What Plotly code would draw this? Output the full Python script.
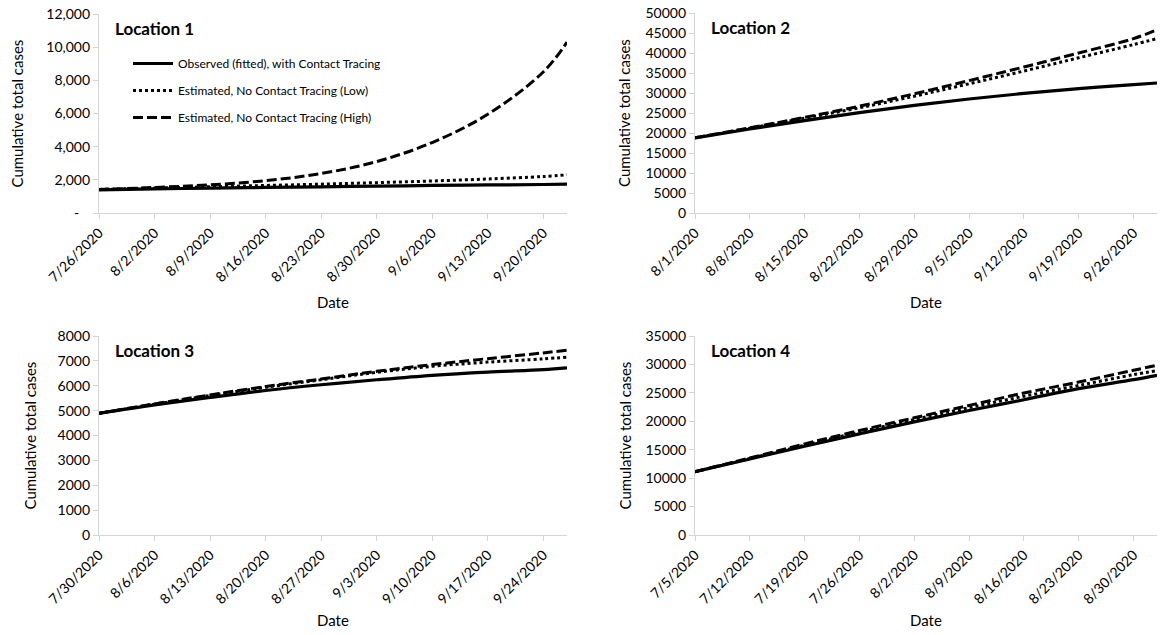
import plotly.graph_objects as go
from datetime import date, timedelta

# ---------------- data ----------------
loc1_dates = ["2020-07-26", "2020-08-02", "2020-08-09", "2020-08-16", "2020-08-23",
              "2020-08-30", "2020-09-06", "2020-09-13", "2020-09-20", "2020-09-23"]
loc1_observed = [1400, 1450, 1500, 1540, 1580, 1620, 1660, 1690, 1720, 1740]
loc1_low = [1420, 1500, 1580, 1660, 1740, 1830, 1930, 2050, 2200, 2300]
loc1_high = [1420, 1540, 1700, 1950, 2380, 3100, 4250, 5950, 8500, 10300]

loc2_dates = ["2020-08-01", "2020-08-08", "2020-08-15", "2020-08-22", "2020-08-29",
              "2020-09-05", "2020-09-12", "2020-09-19", "2020-09-26", "2020-09-29"]
loc2_observed = [18800, 21000, 23100, 25100, 26900, 28500, 29900, 31100, 32100, 32500]
loc2_low = [18800, 21200, 23700, 26300, 29200, 32300, 35500, 38800, 42100, 43600]
loc2_high = [18800, 21300, 23900, 26700, 29800, 33100, 36500, 40000, 43600, 45800]

loc3_dates = ["2020-07-30", "2020-08-06", "2020-08-13", "2020-08-20", "2020-08-27",
              "2020-09-03", "2020-09-10", "2020-09-17", "2020-09-24", "2020-09-27"]
loc3_observed = [4890, 5230, 5530, 5810, 6040, 6240, 6420, 6550, 6650, 6720]
loc3_low = [4890, 5260, 5610, 5940, 6240, 6540, 6780, 6950, 7080, 7150]
loc3_high = [4890, 5270, 5630, 5970, 6270, 6580, 6850, 7090, 7320, 7430]

loc4_dates = ["2020-07-05", "2020-07-12", "2020-07-19", "2020-07-26", "2020-08-02",
              "2020-08-09", "2020-08-16", "2020-08-23", "2020-08-30", "2020-09-02"]
loc4_observed = [11130, 13370, 15600, 17790, 19900, 21900, 23790, 25740, 27330, 28090]
loc4_low = [11130, 13450, 15800, 18100, 20300, 22400, 24400, 26300, 28200, 28900]
loc4_high = [11130, 13550, 16020, 18370, 20610, 22790, 24970, 26910, 28970, 29860]

titles = ["Location 1", "Location 2", "Location 3", "Location 4"]
series_names = ["Observed (fitted), with Contact Tracing",
                "Estimated, No Contact Tracing (Low)",
                "Estimated, No Contact Tracing (High)"]

y_ranges = [12000, 50000, 8000, 35000]
y_dticks = [2000, 5000, 1000, 5000]

# ---------------- layout geometry ----------------
W, H = 1162, 635
FONT = "Lato"
AX = "#d4d4d4"
TXT = "#000000"

# plot boxes in pixels: (left, right, top, bottom)
boxes = [(99, 567, 14, 213), (695, 1157, 13, 213),
         (99, 567, 336, 535), (695, 1157, 336, 535)]

panels = [
    (loc1_dates, loc1_observed, loc1_low, loc1_high),
    (loc2_dates, loc2_observed, loc2_low, loc2_high),
    (loc3_dates, loc3_observed, loc3_low, loc3_high),
    (loc4_dates, loc4_observed, loc4_low, loc4_high),
]

styles = [dict(color="black", width=3.2, dash="solid"),
          dict(color="black", width=3, dash="3px,3px"),
          dict(color="black", width=3, dash="10px,4px")]

fig = go.Figure()
layout = dict(width=W, height=H,
              margin=dict(l=0, r=0, t=0, b=0, pad=0, autoexpand=False),
              paper_bgcolor="white", plot_bgcolor="white",
              font=dict(family=FONT, color=TXT, size=14))
annotations = []


def fmt_date(d):
    return f"{d.month}/{d.day}/{d.year}"


for i, (dates, obs, low, high) in enumerate(panels):
    n = i + 1
    xa = "x" if n == 1 else f"x{n}"
    ya = "y" if n == 1 else f"y{n}"
    for j, vals in enumerate([obs, low, high]):
        fig.add_trace(go.Scatter(
            x=dates, y=vals, mode="lines", xaxis=xa, yaxis=ya,
            name=series_names[j], legendgroup=f"g{j}",
            showlegend=(n == 1), line=dict(shape="spline", **styles[j]),
        ))
    L, R, T, B = boxes[i]
    d0 = date.fromisoformat(dates[0])
    d1 = date.fromisoformat(dates[-1])
    tickdates = []
    d = d0
    while d <= d1:
        tickdates.append(d)
        d += timedelta(days=7)
    xkey = "xaxis" if n == 1 else f"xaxis{n}"
    ykey = "yaxis" if n == 1 else f"yaxis{n}"
    layout[xkey] = dict(
        domain=[L / W, R / W], anchor=ya, type="date", automargin=False,
        range=[dates[0], dates[-1]],
        tickvals=[t.isoformat() for t in tickdates],
        ticktext=[fmt_date(t) for t in tickdates],
        tickangle=-45, showline=True, linecolor=AX, linewidth=1.3,
        ticks="outside", ticklen=5, tickcolor=AX, showgrid=False, zeroline=False,
        tickfont=dict(family=FONT, size=14, color=TXT),
    )
    yvals = list(range(0, y_ranges[i] + 1, y_dticks[i]))
    if n == 1:
        ytext = ["-\u00a0\u00a0\u00a0" if v == 0 else f"{v:,}" for v in yvals]
    else:
        ytext = [str(v) for v in yvals]
    layout[ykey] = dict(
        domain=[1 - B / H, 1 - T / H], anchor=xa, automargin=False,
        range=[0, y_ranges[i]], tickvals=yvals, ticktext=ytext,
        showline=True, linecolor=AX, linewidth=1.3,
        ticks="outside", ticklen=5, tickcolor=AX, showgrid=False, zeroline=False,
        tickfont=dict(family=FONT, size=14, color=TXT),
    )
    # panel title
    annotations.append(dict(text=f"<b>{titles[i]}</b>", xref="paper", yref="paper",
                            x=(L + 14) / W, y=1 - (T + 14) / H, xanchor="left",
                            yanchor="middle", showarrow=False,
                            font=dict(family=FONT, size=17, color="black")))
    # x title
    date_y = 302 if i < 2 else 620
    annotations.append(dict(text="Date", xref="paper", yref="paper",
                            x=(L + R) / 2 / W, y=1 - date_y / H, xanchor="center",
                            yanchor="middle", showarrow=False,
                            font=dict(family=FONT, size=15, color=TXT)))
    # y title
    ytx = [17, 624, 29, 624][i]
    annotations.append(dict(text="Cumulative total cases", xref="paper", yref="paper",
                            x=ytx / W, y=1 - (T + B) / 2 / H, xanchor="center",
                            yanchor="middle", textangle=-90, showarrow=False,
                            font=dict(family=FONT, size=15, color=TXT)))

layout["annotations"] = annotations
layout["showlegend"] = True
layout["legend"] = dict(x=128 / W, y=1 - 49 / H, xanchor="left", yanchor="top",
                        bgcolor="rgba(0,0,0,0)", traceorder="grouped",
                        tracegroupgap=8, itemwidth=40,
                        font=dict(family=FONT, size=12, color=TXT))
fig.update_layout(**layout)
fig.write_html(
    "out.html",
    config={"displayModeBar": False},
    post_script="document.body.style.margin='0';document.body.style.overflow='hidden';",
)
